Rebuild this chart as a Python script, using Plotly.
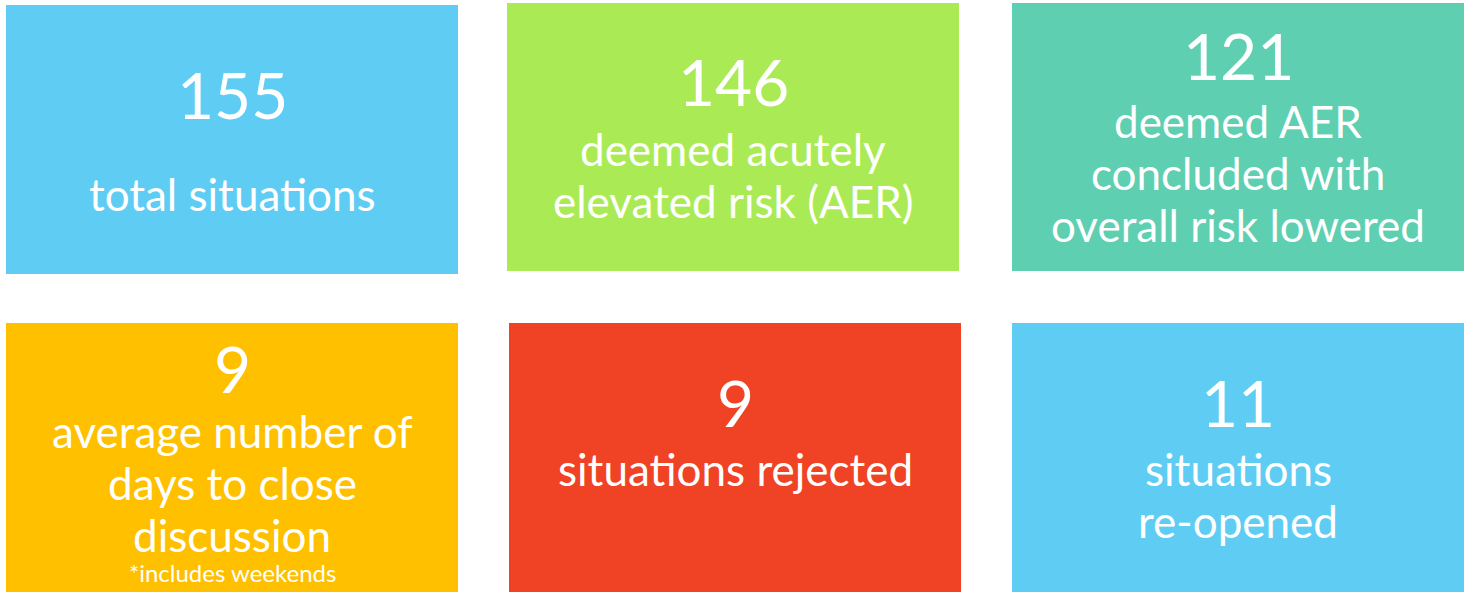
import plotly.graph_objects as go

# ---- data ----
values = ["155", "146", "121", "9", "9", "11"]
descriptions = [
    ["total situations"],
    ["deemed acutely", "elevated risk (AER)"],
    ["deemed AER", "concluded with", "overall risk lowered"],
    ["average number of", "days to close", "discussion"],
    ["situations rejected"],
    ["situations", "re-opened"],
]
footnotes = ["", "", "", "*includes weekends", "", ""]
colors = ["#5FCDF3", "#AAEB55", "#5ECFB1", "#FFC000", "#F04325", "#5FCDF3"]

# ---- layout (pixel coordinates of tiles) ----
tile_x0 = [6, 507, 1012, 6, 509, 1012]
tile_x1 = [458, 959, 1464, 458, 961, 1464]
tile_y0 = [5, 3, 3, 323, 323, 323]
tile_y1 = [274, 271, 271, 592, 592, 592]
num_baseline = [119, 106, 80, 393, 427, 427]
desc_baseline = [211, 166, 138, 448, 486, 486]
line_gap = 52
foot_baseline = [0, 0, 0, 582, 0, 0]

W, H = 1471, 592
FONT = "Lato"
NUM_SIZE = 64
DESC_SIZE = 44
FOOT_SIZE = 24
ASC_SHIFT = 0.387  # baseline -> middle of text box (em)

fig = go.Figure()
fig.add_trace(go.Scatter(x=[0, W], y=[0, H], mode="markers",
                         marker=dict(opacity=0), hoverinfo="skip", showlegend=False))

shapes = []
annotations = []
for i in range(len(values)):
    shapes.append(dict(type="rect", xref="x", yref="y",
                       x0=tile_x0[i], x1=tile_x1[i], y0=tile_y0[i], y1=tile_y1[i],
                       fillcolor=colors[i], line=dict(width=0), layer="below"))
    cx = (tile_x0[i] + tile_x1[i]) / 2
    annotations.append(dict(x=cx, y=num_baseline[i] - ASC_SHIFT * NUM_SIZE, xref="x", yref="y",
                            text=values[i], showarrow=False, xanchor="center", yanchor="middle",
                            font=dict(family=FONT, size=NUM_SIZE, color="white")))
    for j, line in enumerate(descriptions[i]):
        b = desc_baseline[i] + j * line_gap
        annotations.append(dict(x=cx, y=b - ASC_SHIFT * DESC_SIZE, xref="x", yref="y",
                                text=line, showarrow=False, xanchor="center", yanchor="middle",
                                font=dict(family=FONT, size=DESC_SIZE, color="white")))
    if footnotes[i]:
        annotations.append(dict(x=cx, y=foot_baseline[i] - ASC_SHIFT * FOOT_SIZE, xref="x", yref="y",
                                text=footnotes[i], showarrow=False, xanchor="center", yanchor="middle",
                                font=dict(family=FONT, size=FOOT_SIZE, color="white")))

fig.update_layout(
    width=W, height=H,
    margin=dict(l=0, r=0, t=0, b=0),
    paper_bgcolor="white", plot_bgcolor="white",
    xaxis=dict(range=[0, W], visible=False, fixedrange=True),
    yaxis=dict(range=[H, 0], visible=False, fixedrange=True),
    shapes=shapes, annotations=annotations,
    showlegend=False,
)

fig.write_html("out.html", config={"displayModeBar": False},
               post_script="document.body.style.margin='0';document.body.style.overflow='hidden';")
